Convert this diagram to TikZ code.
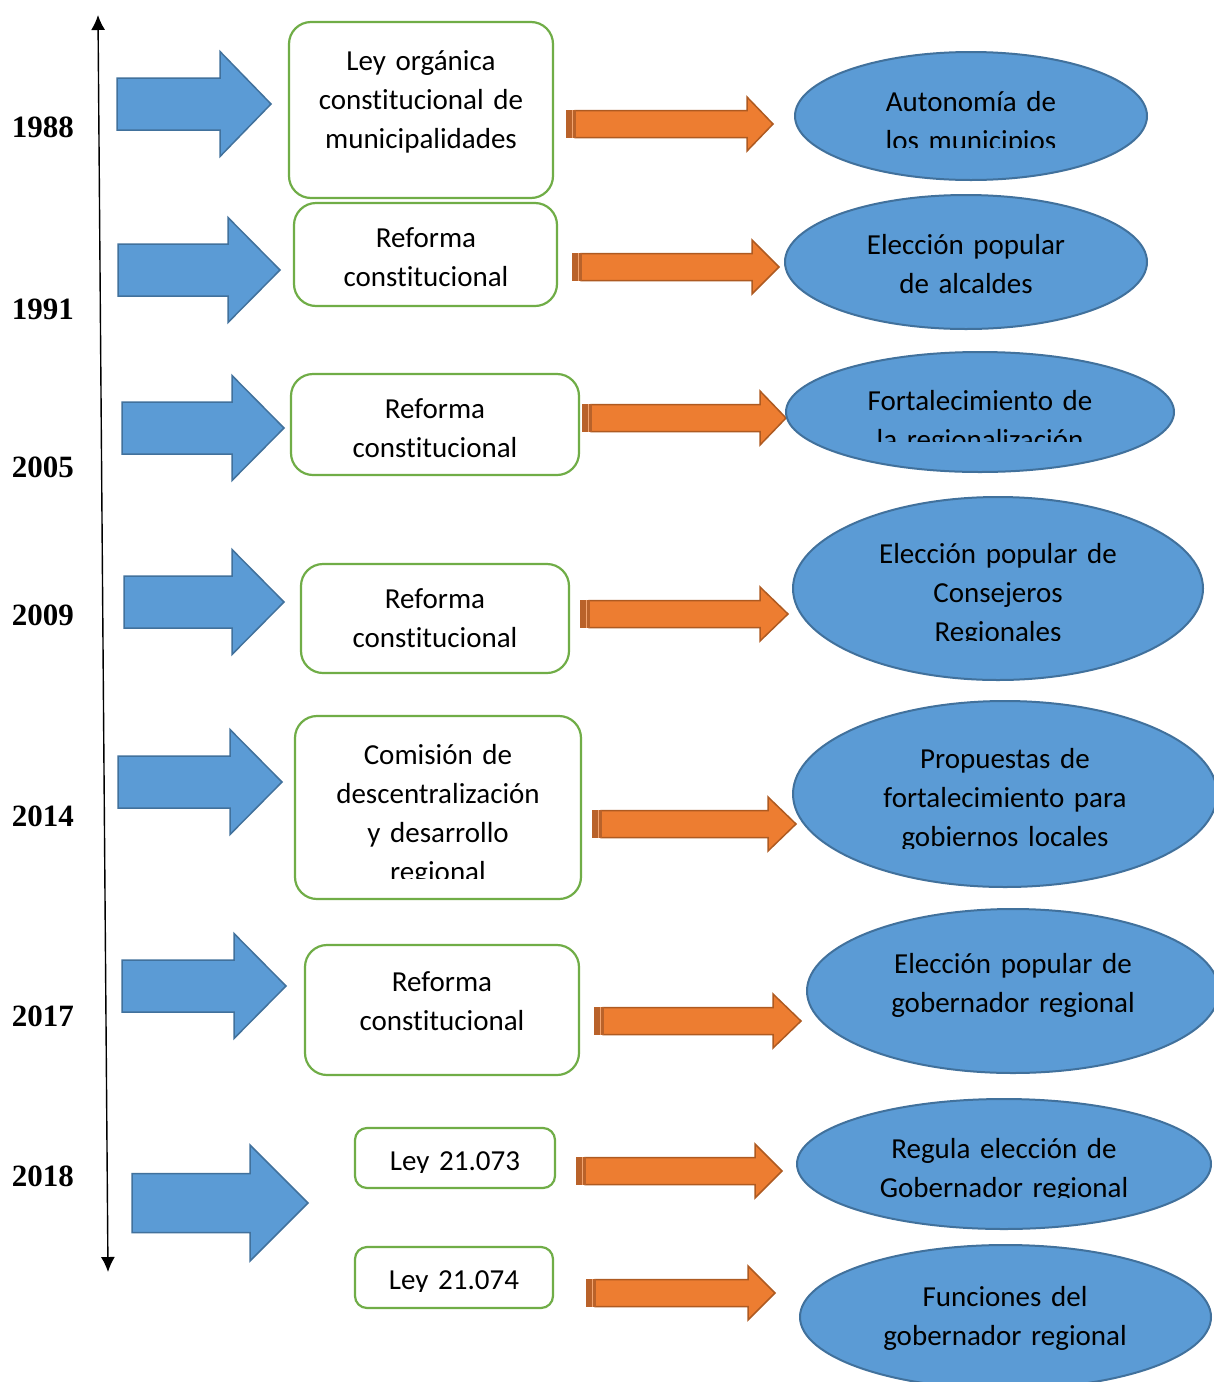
\documentclass[tikz,border=0pt]{standalone}
\usepackage{fontspec}
\setmainfont{Carlito}[Ligatures=CommonOff]
\newfontfamily\yrfont{Liberation Serif}
\usetikzlibrary{shapes.geometric,arrows.meta}
\definecolor{bfill}{HTML}{5B9BD5}
\definecolor{bline}{HTML}{41719C}
\definecolor{ofill}{HTML}{ED7D31}
\definecolor{oline}{HTML}{AE5A21}
\definecolor{ostripe}{HTML}{B9622A}
\definecolor{gline}{HTML}{70AD47}
\newcommand\bluearr[6]{%
  \draw[barrowst] (#1,#2-#3) -- (#4,#2-#3) -- (#4,#2-#5) -- (#6,#2) -- (#4,#2+#5) -- (#4,#2+#3) -- (#1,#2+#3) -- cycle;}
\newcommand\orarr[4]{%
  \draw[oarrowst] (#1+9,#2-13.5) -- (#3,#2-13.5) -- (#3,#2-27) -- (#4,#2) -- (#3,#2+27) -- (#3,#2+13.5) -- (#1+9,#2+13.5) -- cycle;
  \fill[ostripe] (#1,#2-14.2) rectangle (#1+10,#2+14.2);
  \draw[ofill!70!white,line width=0.9pt] (#1+6.2,#2-14.2) -- (#1+6.2,#2+14.2);}
\begin{document}
\begin{tikzpicture}[x=1pt,y=-1pt,
  gbox/.style={draw=gline,line width=2.2pt,rounded corners=22pt,fill=white,inner sep=0pt},
  sbox/.style={gbox,rounded corners=12pt},
  ell/.style={ellipse,draw=bline,line width=2pt,fill=bfill,inner sep=0pt},
  txt/.style={font=\fontsize{29}{39}\selectfont,text width=340pt,align=center,anchor=base,inner sep=0pt},
  yr/.style={font=\yrfont\bfseries\fontsize{31}{31}\selectfont,anchor=base,inner sep=0pt},
  barrowst/.style={draw=bline,fill=bfill,line width=1.5pt,line join=miter},
  oarrowst/.style={draw=oline,fill=ofill,line width=1.5pt,line join=miter}]
\clip (0,0) rectangle (1214,1382);
\fill[white] (0,0) rectangle (1214,1382);

% timeline
\coordinate (ttop) at (98,15);
\coordinate (tbot) at (108,1272);
\draw[line width=1.4pt,{Latex[length=15pt,width=14pt]}-{Latex[length=15pt,width=14pt]}] (ttop) -- (tbot);

% years
\node[yr] (y1) at (43,137) {1988};
\node[yr] (y2) at (43,319) {1991};
\node[yr] (y3) at (43,477) {2005};
\node[yr] (y4) at (43,625) {2009};
\node[yr] (y5) at (43,826) {2014};
\node[yr] (y6) at (43,1026) {2017};
\node[yr] (y7) at (43,1186) {2018};

% blue arrows
\bluearr{117}{104}{26}{220}{52.5}{271}
\bluearr{118}{270}{26}{228}{52.5}{280}
\bluearr{122}{428}{26}{232}{52.5}{284}
\bluearr{124}{602}{26}{232}{52.5}{284}
\bluearr{118}{782}{26}{230}{52.5}{282}
\bluearr{122}{986}{26}{234}{52.5}{286}
\bluearr{132}{1203}{29.5}{250}{58}{308}

% green boxes
\node[gbox,minimum width=264pt,minimum height=176pt] (b1) at (421,110) {};
\node[gbox,minimum width=263pt,minimum height=103pt] (b2) at (425.5,254.5) {};
\node[gbox,minimum width=288pt,minimum height=101pt] (b3) at (435,424.5) {};
\node[gbox,minimum width=268pt,minimum height=109pt] (b4) at (435,618.5) {};
\node[gbox,minimum width=286pt,minimum height=183pt] (b5) at (438,807.5) {};
\node[gbox,minimum width=274pt,minimum height=130pt] (b6) at (442,1010) {};
\node[sbox,minimum width=200pt,minimum height=60pt] (b7) at (455,1158) {};
\node[sbox,minimum width=198pt,minimum height=61pt] (b8) at (454,1277.5) {};

\node[txt] (b1t) at (421,70) {Ley orgánica\\constitucional de\\municipalidades};
\node[txt] (b2t) at (426,247) {Reforma\\constitucional};
\node[txt] (b3t) at (435,418) {Reforma\\constitucional};
\node[txt] (b4t) at (435,608) {Reforma\\constitucional};
\begin{scope}
\clip (290,700) rectangle (590,878);
\node[txt] (b5t) at (438,764) {Comisión de\\descentralización\\y desarrollo\\regional};
\end{scope}
\node[txt] (b6t) at (442,991) {Reforma\\constitucional};
\begin{scope}
\clip (350,1120) rectangle (560,1172);
\node[txt] (b7t) at (455,1170) {Ley 21.073};
\end{scope}
\begin{scope}
\clip (350,1240) rectangle (560,1291);
\node[txt] (b8t) at (454,1289) {Ley 21.074};
\end{scope}

% orange arrows
\orarr{566}{124}{747}{773}
\orarr{572}{267}{752}{779}
\orarr{582}{418}{760}{786}
\orarr{580}{614}{760}{788}
\orarr{592}{824}{768}{796}
\orarr{594}{1021}{773}{801}
\orarr{576}{1171}{755}{782}
\orarr{586}{1293}{748}{775}

% ellipses
\node[ell,minimum width=352pt,minimum height=128pt] (e1) at (971,116) {};
\node[ell,minimum width=362pt,minimum height=134pt] (e2) at (966,262) {};
\node[ell,minimum width=388pt,minimum height=120pt] (e3) at (980,412) {};
\node[ell,minimum width=410pt,minimum height=183pt] (e4) at (998,588.5) {};
\node[ell,minimum width=424pt,minimum height=186pt] (e5) at (1005,794) {};
\node[ell,minimum width=412pt,minimum height=164pt] (e6) at (1013,991) {};
\node[ell,minimum width=414pt,minimum height=130pt] (e7) at (1004,1164) {};
\node[ell,minimum width=411pt,minimum height=144pt] (e8) at (1005.5,1317) {};

\begin{scope}
\clip (780,40) rectangle (1214,147);
\node[txt] (e1t) at (971,111) {Autonomía de\\los municipios};
\end{scope}
\node[txt] (e2t) at (966,254) {Elección popular\\de alcaldes};
\begin{scope}
\clip (780,340) rectangle (1214,441);
\node[txt] (e3t) at (980,410) {Fortalecimiento de\\la regionalización};
\end{scope}
\begin{scope}
\clip (780,490) rectangle (1214,640);
\node[txt] (e4t) at (998,563) {Elección popular de\\Consejeros\\Regionales};
\end{scope}
\begin{scope}
\clip (780,700) rectangle (1214,848);
\node[txt] (e5t) at (1005,768) {Propuestas de\\fortalecimiento para\\gobiernos locales};
\end{scope}
\node[txt] (e6t) at (1013,973) {Elección popular de\\gobernador regional};
\begin{scope}
\clip (780,1100) rectangle (1214,1197);
\node[txt] (e7t) at (1004,1158) {Regula elección de\\Gobernador regional};
\end{scope}
\node[txt] (e8t) at (1005,1306) {Funciones del\\gobernador regional};
\end{tikzpicture}
\end{document}
